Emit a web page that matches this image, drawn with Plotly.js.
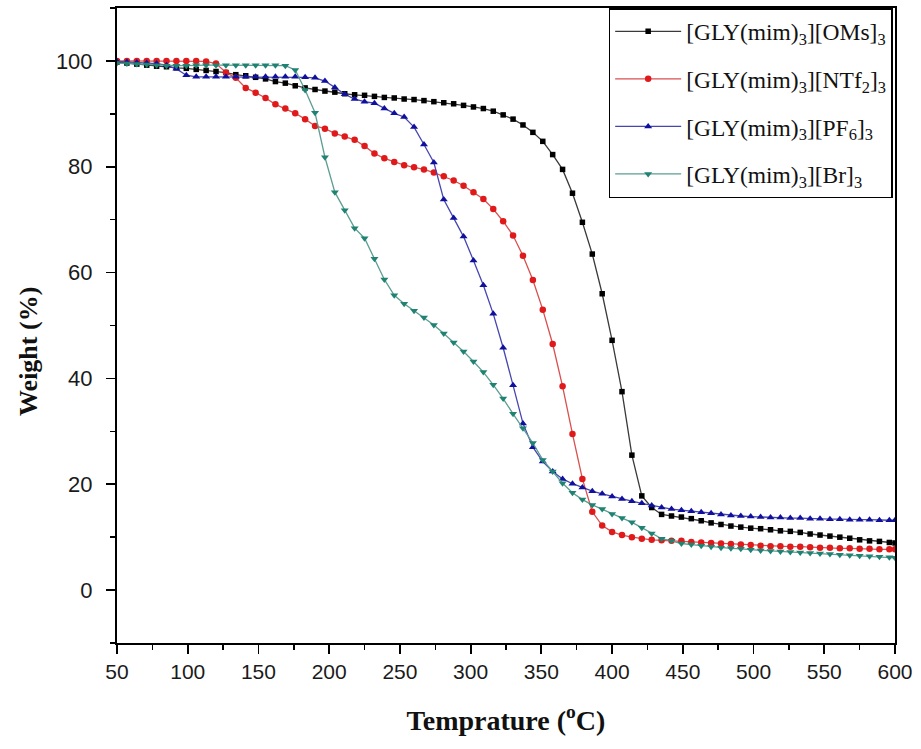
<!DOCTYPE html>
<html>
<head>
<meta charset="utf-8">
<script src="https://cdn.plot.ly/plotly-3.0.1.min.js"></script>
<style>html,body{margin:0;padding:0;background:#fff;}#chart{width:921px;height:749px;}</style>
</head>
<body>
<div id="chart"></div>
<script>
const temperature = [50,57,64,71,78,85,92,99,106,113,
120,127,134,141,148,155,162,169,176,183,
190,197,204,211,218,225,232,239,246,253,
260,267,274,281,288,295,302,309,316,323,
330,337,344,351,358,365,372,379,386,393,
400,407,414,421,428,435,442,449,456,463,
470,477,484,491,498,505,512,519,526,533,
540,547,554,561,568,575,582,589,596,600];

const omsWeight = [99.8,99.6,99.4,99.2,99.0,98.9,98.7,98.6,98.4,98.2,
98.0,97.8,97.4,97.2,96.9,96.6,96.1,95.8,95.3,94.9,
94.6,94.3,94.1,93.8,93.6,93.5,93.3,93.1,93.0,92.8,
92.7,92.5,92.3,92.1,91.9,91.6,91.3,91.0,90.5,89.8,
89.0,87.9,86.5,84.8,82.3,79.5,75.0,69.5,63.5,56.0,
47.2,37.5,25.5,17.8,15.6,14.3,14.0,13.8,13.5,13.1,
12.7,12.4,12.1,11.9,11.7,11.6,11.4,11.2,11.1,10.9,
10.6,10.4,10.2,10.0,9.8,9.5,9.3,9.2,9.0,8.9];

const ntf2Weight = [100,100,100,100,100,100,100,100,100,99.9,
99.5,97.8,96.8,94.9,94.0,93.0,91.8,91.0,90.1,89.0,
87.7,87.2,86.3,85.7,85.1,83.9,82.5,81.6,80.9,80.3,
79.9,79.5,78.9,78.2,77.4,76.4,75.2,73.9,72.0,69.7,
67.0,63.2,58.6,53.0,46.5,38.5,29.5,21.0,14.8,12.2,
11.0,10.4,10.0,9.7,9.5,9.4,9.3,9.3,9.1,9.0,
8.9,8.8,8.7,8.6,8.5,8.4,8.3,8.3,8.2,8.2,
8.1,8.0,8.0,7.9,7.9,7.8,7.8,7.7,7.7,7.7];

const pf6Weight = [99.9,99.8,99.7,99.6,99.5,99.2,98.5,97.3,97.0,97.0,
97.0,97.0,97.0,97.0,97.0,97.0,97.0,97.0,97.0,96.9,
96.8,96.2,95.0,93.7,92.8,92.3,92.0,91.0,90.1,89.4,
87.5,84.2,80.8,73.8,70.3,66.8,62.3,57.6,52.2,45.8,
38.7,31.5,27.0,24.3,22.4,21.0,20.1,19.4,18.7,18.2,
17.7,17.2,16.8,16.4,16.0,15.6,15.3,15.1,14.9,14.7,
14.5,14.3,14.1,14.0,13.9,13.8,13.7,13.7,13.6,13.6,
13.5,13.5,13.4,13.4,13.3,13.3,13.3,13.2,13.2,13.2];

const brWeight = [99.6,99.5,99.4,99.3,99.2,99.1,99.1,99.1,99.2,99.2,
99.2,99.2,99.2,99.2,99.2,99.2,99.2,99.1,98.3,94.5,
90.2,81.8,75.2,71.8,68.4,66.5,62.6,58.7,55.7,54.1,
52.8,51.5,50.1,48.5,46.8,45.1,43.2,41.2,38.8,36.2,
33.3,30.6,27.8,24.6,22.4,20.2,18.4,17.1,16.1,15.3,
14.4,13.6,12.8,11.8,10.7,9.7,9.3,8.8,8.6,8.4,
8.2,8.0,7.9,7.8,7.6,7.5,7.4,7.3,7.2,7.1,
7.0,6.9,6.8,6.7,6.6,6.5,6.4,6.3,6.2,6.1];

const seriesNames = [
  "[GLY(mim)<sub>3</sub>][OMs]<sub>3</sub>",
  "[GLY(mim)<sub>3</sub>][NTf<sub>2</sub>]<sub>3</sub>",
  "[GLY(mim)<sub>3</sub>][PF<sub>6</sub>]<sub>3</sub>",
  "[GLY(mim)<sub>3</sub>][Br]<sub>3</sub>"
];
const xTickVals = [50,100,150,200,250,300,350,400,450,500,550,600];
const yTickVals = [0,20,40,60,80,100];

function trace(name, group, y, lineColor, markerColor, symbol, size) {
  return {
    x: temperature, y: y, name: name, legendgroup: group, type: 'scatter', mode: 'lines+markers',
    line: {color: lineColor, width: 1.3},
    marker: {color: markerColor, symbol: symbol, size: size, line: {width: 0}}
  };
}

const data = [
  trace(seriesNames[0], 'a', omsWeight, '#3a3a3a', '#000000', 'square', 5.5),
  trace(seriesNames[1], 'b', ntf2Weight, '#d85050', '#e01a1a', 'circle', 6.5),
  trace(seriesNames[2], 'c', pf6Weight, '#4646b0', '#10109e', 'triangle-up', 7),
  trace(seriesNames[3], 'd', brWeight, '#5c9e92', '#1f8272', 'triangle-down', 7)
];

const serif = 'Liberation Serif, Times New Roman, serif';
const sans = 'Liberation Sans, Arial, sans-serif';

const layout = {
  width: 921, height: 749,
  paper_bgcolor: '#fff', plot_bgcolor: '#fff',
  margin: {l: 117, r: 26, t: 8, b: 106},
  showlegend: true,
  legend: {
    x: 0.997, y: 1, xanchor: 'right', yanchor: 'top',
    bordercolor: '#000', borderwidth: 1.5, bgcolor: '#fff',
    font: {family: serif, size: 23.5, color: '#111'},
    itemwidth: 66, tracegroupgap: 14
  },
  xaxis: {
    range: [50, 600], tickmode: 'array', tickvals: xTickVals,
    ticks: 'outside', ticklen: 9, tickwidth: 1.8, tickcolor: '#000',
    minor: {dtick: 25, tick0: 50, ticks: 'outside', ticklen: 5, tickwidth: 1.5, tickcolor: '#000'},
    showline: true, linecolor: '#000', linewidth: 2, mirror: true,
    showgrid: false, zeroline: false,
    tickfont: {family: sans, size: 21, color: '#1a1a1a'},
    title: {text: 'Temprature (<sup>o</sup>C)', standoff: 28,
      font: {family: serif, size: 28, color: '#111', weight: 'bold'}}
  },
  yaxis: {
    range: [-10, 110], tickmode: 'array', tickvals: yTickVals,
    ticks: 'outside', ticklen: 9, tickwidth: 1.8, tickcolor: '#000',
    minor: {dtick: 10, tick0: 0, ticks: 'outside', ticklen: 5, tickwidth: 1.5, tickcolor: '#000'},
    showline: true, linecolor: '#000', linewidth: 2, mirror: true,
    showgrid: false, zeroline: false,
    tickfont: {family: sans, size: 22, color: '#1a1a1a'},
    ticklabelstandoff: 9
  },
  annotations: [{
    text: 'Weight (%)', textangle: -90, showarrow: false,
    xref: 'paper', yref: 'y', x: 0, y: 45, xanchor: 'center', yanchor: 'middle',
    xshift: -88,
    font: {family: serif, size: 26, color: '#111', weight: 'bold'}
  }]
};

Plotly.newPlot('chart', data, layout, {displayModeBar: false, staticPlot: true});
</script>
</body>
</html>
